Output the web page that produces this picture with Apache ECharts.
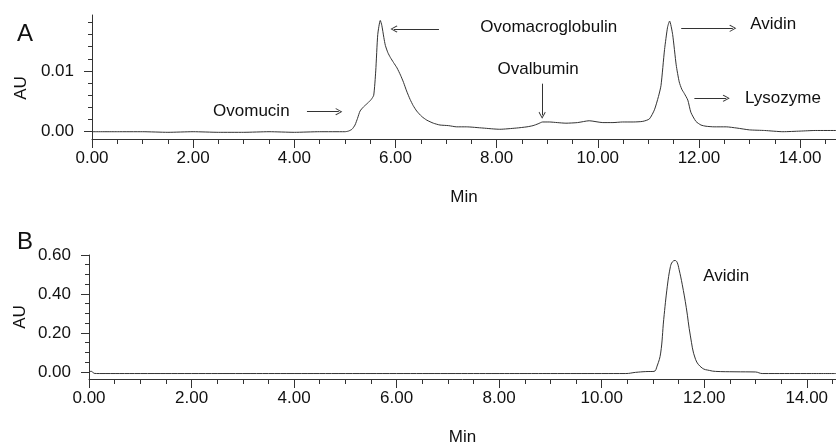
<!DOCTYPE html>
<html>
<head>
<meta charset="utf-8">
<script src="https://cdn.jsdelivr.net/npm/echarts@6/dist/echarts.min.js"></script>
<style>
  html, body { margin: 0; padding: 0; background: #fff; }
  #chart { width: 836px; height: 445px; }
</style>
</head>
<body>
<div id="chart"></div>
<script>
// panel A: egg white, time (min) and absorbance (AU)
const timeA = [0, 0.5, 1.0, 1.5, 2.0, 2.5, 3.0, 3.5, 4.0, 4.5, 5.0, 5.07, 5.14, 5.2, 5.25, 5.3, 5.37, 5.45,
    5.52, 5.57, 5.61, 5.65, 5.70, 5.73, 5.77, 5.80, 5.85, 5.90, 5.96, 6.03, 6.10, 6.16, 6.22, 6.29, 6.35,
    6.42, 6.52, 6.62, 6.75, 6.88, 7.05, 7.21, 7.4, 7.73, 8.06, 8.39, 8.6, 8.72, 8.82, 8.91, 9.04, 9.2,
    9.37, 9.6, 9.83, 10.1, 10.3, 10.49, 10.7, 10.89, 11.02, 11.12, 11.2, 11.25, 11.32, 11.38, 11.42,
    11.48, 11.55, 11.61, 11.66, 11.71, 11.78, 11.84, 11.94, 12.04, 12.14, 12.3, 12.54, 12.75, 13.0,
    13.3, 13.66, 14.0, 14.3, 14.71];
const auA = [0.0000, 0.0000, 0.0000, -0.0001, 0.0000, -0.0001, -0.0001, 0.0000, -0.0001, 0.0000, 0.0000,
    0.0001, 0.0004, 0.0011, 0.0022, 0.0034, 0.0041, 0.0047, 0.0053, 0.0060, 0.0100, 0.0160, 0.0183,
    0.0175, 0.0155, 0.0142, 0.0130, 0.0122, 0.0114, 0.0105, 0.0093, 0.0081, 0.0067, 0.0053, 0.0043,
    0.0034, 0.0025, 0.0019, 0.0014, 0.0011, 0.0010, 0.0008, 0.0008, 0.0006, 0.0004, 0.0006, 0.0008,
    0.0010, 0.0013, 0.0016, 0.0016, 0.0015, 0.0014, 0.0015, 0.0018, 0.0015, 0.0015, 0.0016, 0.0016,
    0.0017, 0.0021, 0.0036, 0.0058, 0.0076, 0.0135, 0.0172, 0.0182, 0.0160, 0.0110, 0.0082, 0.0070,
    0.0063, 0.0052, 0.0032, 0.0017, 0.0011, 0.0009, 0.0008, 0.0008, 0.0006, 0.0003, 0.0002, 0.0000,
    0.0001, 0.0002, 0.0002];

// panel B: avidin fraction
const timeB = [0, 0.05, 0.1, 0.2, 1, 2, 3, 4, 5, 6, 7, 8, 8.4, 9, 10, 10.47, 10.66, 10.86, 11.02, 11.08,
    11.15, 11.21, 11.28, 11.34, 11.38, 11.43, 11.47, 11.51, 11.57, 11.65, 11.73, 11.83, 11.96, 12.1,
    12.22, 12.6, 13.0, 13.13, 14, 14.57];
const auB = [0.003, 0.003, -0.007, -0.008, -0.008, -0.008, -0.008, -0.008, -0.008, -0.008, -0.008,
    -0.008, -0.008, -0.008, -0.008, -0.008, -0.002, 0.002, 0.003, 0.03, 0.097, 0.27, 0.44, 0.54, 0.565,
    0.572, 0.563, 0.525, 0.45, 0.33, 0.185, 0.065, 0.02, 0.008, 0.003, 0.001, 0.0, -0.008, -0.008, -0.008];

// tick values
const xMajor = [0, 2, 4, 6, 8, 10, 12, 14];
const xMinor = [0.5, 1, 1.5, 2.5, 3, 3.5, 4.5, 5, 5.5, 6.5, 7, 7.5, 8.5, 9, 9.5, 10.5, 11, 11.5, 12.5, 13, 13.5, 14.5];
const yMajorA = [0, 0.01];
const yMinorA = [0.002, 0.004, 0.006, 0.008, 0.012, 0.014, 0.016, 0.018];
const yMajorB = [0, 0.2, 0.4, 0.6];
const yMinorB = [0.05, 0.1, 0.15, 0.25, 0.3, 0.35, 0.45, 0.5, 0.55];

// peak annotations (data units): label position, arrow start and end
const labelsA = [
    {name: "Ovomucin", at: [3.15, 0.0033], from: [4.25, 0.0033], to: [4.88, 0.0033]},
    {name: "Ovomacroglobulin", at: [9.03, 0.0172], from: [6.86, 0.0169], to: [5.97, 0.0169]},
    {name: "Ovalbumin", at: [8.82, 0.0102], from: [8.9, 0.0079], to: [8.9, 0.0027]},
    {name: "Avidin", at: [13.47, 0.0177], from: [11.65, 0.0170], to: [12.67, 0.0170]},
    {name: "Lysozyme", at: [13.66, 0.0055], from: [11.91, 0.0055], to: [12.54, 0.0055]}
];
const labelsB = [
    {name: "Avidin", at: [12.43, 0.49]}
];

const FONT = "Liberation Sans";
const INK = "#111";
const LINE = "#333";
const arrowHead = "path://M5,0 L10,9 L9,10 L5,2.4 L1,10 L0,9 Z";

function zip(xs, ys) {
    return xs.map((x, i) => [x, ys[i]]);
}

function fmt(v) {
    return v.toFixed(2);
}

function xAxes(grid, max) {
    return [{
        type: "value", gridIndex: grid, min: 0, max: max, position: "bottom",
        name: "Min", nameLocation: "middle", nameGap: 50,
        nameTextStyle: {fontFamily: FONT, fontSize: 17, color: INK},
        axisLine: {show: true, onZero: false, lineStyle: {color: LINE, width: 1}},
        axisTick: {show: true, length: 9, customValues: xMajor, lineStyle: {color: LINE}},
        axisLabel: {show: true, customValues: xMajor, formatter: fmt, margin: 11,
            fontFamily: FONT, fontSize: 17, color: INK},
        splitLine: {show: false}
    }, {
        type: "value", gridIndex: grid, min: 0, max: max, position: "bottom",
        axisLine: {show: false, onZero: false},
        axisTick: {show: true, length: 5, customValues: xMinor, lineStyle: {color: LINE}},
        axisLabel: {show: false},
        splitLine: {show: false}
    }];
}

function yAxes(grid, min, max, major, minor, gap, pad) {
    return [{
        type: "value", gridIndex: grid, min: min, max: max, position: "left",
        name: "AU", nameLocation: "middle", nameGap: gap, nameMoveOverlap: false,
        nameTextStyle: {fontFamily: FONT, fontSize: 17, color: INK, padding: pad},
        axisLine: {show: true, onZero: false, lineStyle: {color: LINE, width: 1}},
        axisTick: {show: true, length: 8, customValues: major, lineStyle: {color: LINE}},
        axisLabel: {show: true, customValues: major, formatter: fmt, margin: 18,
            fontFamily: FONT, fontSize: 17, color: INK},
        splitLine: {show: false}
    }, {
        type: "value", gridIndex: grid, min: min, max: max, position: "left",
        axisLine: {show: false, onZero: false},
        axisTick: {show: true, length: 4, customValues: minor, lineStyle: {color: LINE}},
        axisLabel: {show: false},
        splitLine: {show: false}
    }];
}

function marks(list) {
    return {
        silent: true,
        symbol: "circle",
        symbolSize: 1,
        itemStyle: {color: "rgba(0,0,0,0)"},
        label: {show: true, position: "inside", formatter: "{b}",
            fontFamily: FONT, fontSize: 17, color: INK},
        data: list.map(a => ({name: a.name, coord: a.at}))
    };
}

function arrows(list) {
    return {
        silent: true,
        symbol: ["none", arrowHead],
        symbolSize: [7, 7],
        label: {show: false},
        lineStyle: {color: LINE, width: 1, type: "solid"},
        data: list.filter(a => a.from).map(a => [{coord: a.from}, {coord: a.to}])
    };
}

let chart = echarts.init(document.getElementById("chart"), null, {renderer: "canvas"});
let option = {
    animation: false,
    backgroundColor: "#fff",
    title: [
        {text: "A", left: 12, top: 17, textStyle: {fontFamily: FONT, fontSize: 24, fontWeight: "normal", color: INK}},
        {text: "B", left: 12, top: 225, textStyle: {fontFamily: FONT, fontSize: 24, fontWeight: "normal", color: INK}}
    ],
    grid: [
        {left: 92, right: 0, top: 15, bottom: 306, outerBoundsMode: "none"},
        {left: 89, right: 0, top: 255, bottom: 66, outerBoundsMode: "none"}
    ],
    xAxis: [].concat(xAxes(0, 14.71), xAxes(1, 14.57)),
    yAxis: [].concat(
        yAxes(0, -0.0012, 0.0192, yMajorA, yMinorA, 62, [0, 22, 0, 0]),
        yAxes(1, -0.036, 0.6, yMajorB, yMinorB, 60, 0)
    ),
    series: [
        {
            type: "line", xAxisIndex: 0, yAxisIndex: 0,
            data: zip(timeA, auA),
            showSymbol: false, smooth: 0.2,
            lineStyle: {color: LINE, width: 1},
            markPoint: marks(labelsA),
            markLine: arrows(labelsA)
        },
        {
            type: "line", xAxisIndex: 2, yAxisIndex: 2,
            data: zip(timeB, auB),
            showSymbol: false, smooth: 0.4,
            lineStyle: {color: LINE, width: 1},
            markPoint: marks(labelsB)
        }
    ]
};
chart.setOption(option);
</script>
</body>
</html>
